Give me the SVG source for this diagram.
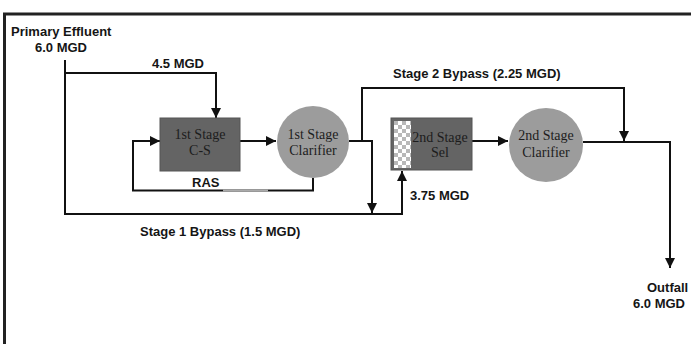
<svg xmlns="http://www.w3.org/2000/svg" width="691" height="344" viewBox="0 0 691 344">
<style>
.lbl{font-family:"Liberation Sans",Arial,sans-serif;font-weight:bold;font-size:13px;fill:#151515}
.nt{font-family:"Liberation Serif","Times New Roman",serif;font-size:14px;fill:#1c1c1c;text-anchor:middle}
.c{fill:none;stroke:#111;stroke-width:2}
.box{fill:#646464;stroke:#555;stroke-width:1}
.circ{fill:#9c9c9c}
</style>
<defs>
<marker id="ah" markerUnits="userSpaceOnUse" markerWidth="11" markerHeight="11" refX="10" refY="5" orient="auto">
<path d="M0,0 L10,5 L0,10 z" fill="#111"/>
</marker>
<pattern id="chk" patternUnits="userSpaceOnUse" width="8" height="8" x="394" y="121">
<rect width="8" height="8" fill="#ffffff"/>
<rect width="4" height="4" fill="#b8b8b8"/>
<rect x="4" y="4" width="4" height="4" fill="#b8b8b8"/>
</pattern>
</defs>
<rect width="691" height="344" fill="#ffffff"/>
<path d="M4.5,344 V14 H691" fill="none" stroke="#222" stroke-width="3"/>

<g id="connectors">
<path class="c" d="M65,60 V214 H402 V171" marker-end="url(#ah)"/>
<path class="c" d="M65,73 H216 V118" marker-end="url(#ah)"/>
<path class="c" d="M240,141 H276" marker-end="url(#ah)"/>
<path class="c" d="M313,178 V190.5 H133 V141 H160" marker-end="url(#ah)"/>
<line x1="223" y1="190.5" x2="268" y2="190.5" stroke="#aaaaaa" stroke-width="2"/>
<path class="c" d="M349,141 H372 V213" marker-end="url(#ah)"/>
<path class="c" d="M362,141 V88 H624 V141" marker-end="url(#ah)"/>
<path class="c" d="M472,141 H508" marker-end="url(#ah)"/>
<path class="c" d="M583,142 H670 V268" marker-end="url(#ah)"/>
</g>

<g id="labels">
<text class="lbl" x="11" y="36">Primary Effluent</text>
<text class="lbl" x="35" y="52">6.0 MGD</text>
<text class="lbl" x="152" y="68">4.5 MGD</text>
<text class="lbl" x="393" y="78">Stage 2 Bypass (2.25 MGD)</text>
<text class="lbl" x="192" y="187">RAS</text>
<text class="lbl" x="410" y="200">3.75 MGD</text>
<text class="lbl" x="140" y="236">Stage 1 Bypass (1.5 MGD)</text>
<text class="lbl" x="647" y="292">Outfall</text>
<text class="lbl" x="633" y="308">6.0 MGD</text>
</g>

<g id="cs1">
<rect class="box" x="160" y="118" width="80" height="53"/>
<text class="nt" x="200" y="139">1st Stage</text>
<text class="nt" x="200" y="155">C-S</text>
</g>

<g id="clar1">
<circle class="circ" cx="313" cy="142" r="36"/>
<text class="nt" x="313" y="139">1st Stage</text>
<text class="nt" x="313" y="155">Clarifier</text>
</g>

<g id="sel2">
<rect class="box" x="391" y="118" width="81" height="52"/>
<rect x="394" y="121" width="17" height="47" fill="url(#chk)"/>
<text class="nt" x="440" y="142">2nd Stage</text>
<text class="nt" x="440" y="157">Sel</text>
</g>

<g id="clar2">
<circle class="circ" cx="546" cy="145" r="37"/>
<text class="nt" x="546" y="140">2nd Stage</text>
<text class="nt" x="546" y="157">Clarifier</text>
</g>
</svg>
